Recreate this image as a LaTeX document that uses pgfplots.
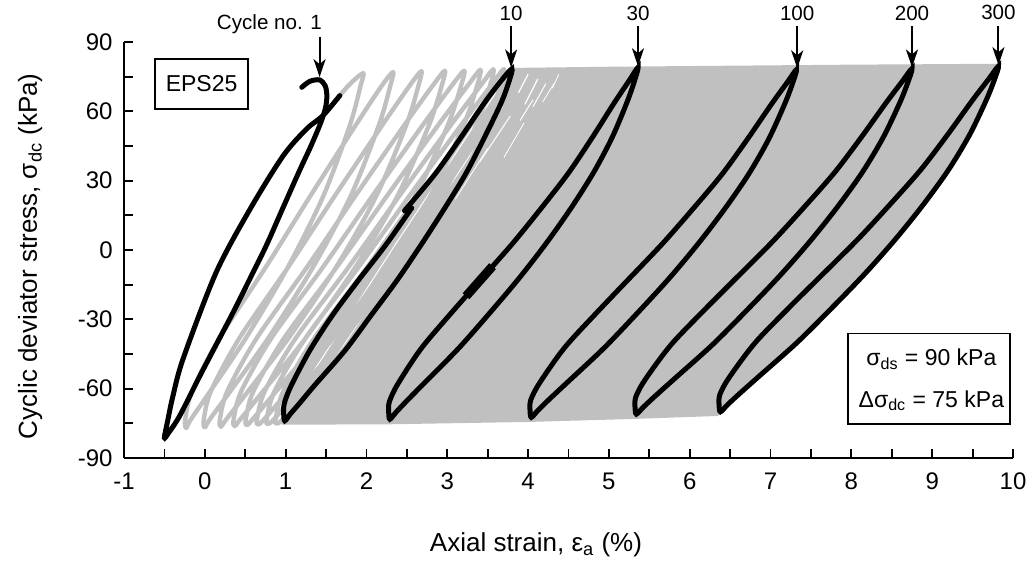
\documentclass[border=0pt]{standalone}
\usepackage{fontspec}
\setmainfont{Liberation Sans}
\usepackage{pgfplots}
\pgfplotsset{compat=1.18}
\usetikzlibrary{arrows.meta}
\definecolor{lg}{RGB}{192,192,192}
\begin{document}
\begin{tikzpicture}
\useasboundingbox (-62pt,-53pt) rectangle (456pt,229pt);
\begin{axis}[
 at={(0pt,0pt)}, anchor=south west,
 scale only axis, width=444.5pt, height=208pt,
 xmin=-1, xmax=10, ymin=-90, ymax=90,
 axis x line*=bottom, axis y line*=left,
 axis line style={-, line width=0.9pt},
 xtick={-1,0,...,10}, xticklabels={-1,0,1,2,3,4,5,6,7,8,9,10},
 ytick={-90,-60,...,90}, yticklabels={-90,-60,-30,0,30,60,90},
 minor x tick num=1, minor y tick num=1,
 tick align=inside, major tick length=4.5pt, minor tick length=4.5pt,
 tick style={line width=0.9pt, black},
 ticklabel style={font=\fontsize{12}{14}\selectfont},
 xticklabel style={anchor=center, inner sep=0pt, yshift=-11.5pt},
 yticklabel style={anchor=east, inner sep=0pt, xshift=-5.5pt},
 xlabel={Axial strain, ε\textsubscript{a} (\%)},
 ylabel={Cyclic deviator stress, σ\textsubscript{dc} (kPa)},
 label style={font=\fontsize{13}{15}\selectfont},
 xlabel style={at={(axis description cs:0.4634,-0.209)}, anchor=center},
 ylabel style={at={(axis description cs:-0.1057,0.485)}, anchor=center},
 clip=false,
]
% dense gray region (cycles 10-300)
\addplot[fill=lg, draw=none] coordinates {
(0.95,-75.6) (2.3,-75.4) (4.0,-74.4) (5.3,-73.1) (6.35,-71.8)
(6.466,-67.01) (6.604,-62.53) (6.844,-55.05) (7.326,-40.1) (7.756,-25.15)
(8.169,-10.2) (8.547,4.75) (8.891,19.7) (9.201,34.65) (9.459,49.6)
(9.665,64.55) (9.768,73.52) (9.82,79.5)
(9.80,80.6) (9.0,80.4) (8.0,80.2) (7.0,79.9) (6.0,79.6) (5.0,79.3) (4.3,79.0) (3.80,78.8)
(3.645,72.31) (3.449,63.17) (3.154,47.94) (2.845,32.71) (2.521,17.48) (2.240,2.25)
(1.903,-12.98) (1.580,-28.21) (1.299,-43.44) (1.069,-58.67) (0.984,-66.29) (0.95,-72)
} -- cycle;
% faint white streaks inside the dense region (cycles 11-30)
\addplot[white, line width=0.5pt] coordinates {(1.30,-55) (2.35,2) (3.60,68)};
\addplot[white, line width=0.4pt] coordinates {(1.55,-50) (2.60,5) (3.68,62)};
\addplot[white, line width=0.4pt] coordinates {(3.10,22) (3.50,44)};
\addplot[white, line width=0.5pt] coordinates {(3.40,38) (3.78,58)};
\addplot[white, line width=0.6pt] coordinates {(3.88,68) (4.00,76)};
\addplot[white, line width=0.6pt] coordinates {(3.96,63) (4.12,74)};
\addplot[white, line width=0.5pt] coordinates {(4.06,62) (4.22,72)};
\addplot[white, line width=0.5pt] coordinates {(3.90,56) (4.06,65)};
\addplot[white, line width=0.4pt] coordinates {(4.18,64) (4.32,72)};
\addplot[white, line width=0.4pt] coordinates {(4.30,70) (4.38,76)};
\addplot[white, line width=0.4pt] coordinates {(3.70,40) (3.95,55)};
% gray loops, cycles 2-9
\addplot[lg, line width=2.2pt, smooth, tension=0.5, line join=round] coordinates {
(1.67,66.8) (1.80,72.0) (1.96,76.5)
(1.927,71.05) (1.796,54.15) (1.467,23.41) (1.029,-7.34) (0.509,-38.08) (0.066,-61.13) (-0.175,-73.43) (-0.23,-77.0)
(-0.243,-73.43) (-0.158,-61.13) (0.180,-38.08) (0.756,-7.34) (1.306,23.41) (1.869,54.15) (2.189,71.05) (2.33,77.0)
(2.295,71.05) (2.155,54.15) (1.806,23.41) (1.340,-7.34) (0.786,-38.08) (0.315,-61.13) (0.058,-73.43) (0.0,-76.8)
(-0.013,-73.43) (0.075,-61.13) (0.429,-38.08) (1.032,-7.34) (1.608,23.41) (2.198,54.15) (2.533,71.05) (2.68,77.4)
(2.643,71.05) (2.494,54.15) (2.122,23.41) (1.626,-7.34) (1.037,-38.08) (0.535,-61.13) (0.262,-73.43) (0.2,-76.5)
(0.186,-73.43) (0.278,-61.13) (0.643,-38.08) (1.266,-7.34) (1.862,23.41) (2.471,54.15) (2.818,71.05) (2.97,77.6)
(2.931,71.05) (2.775,54.15) (2.385,23.41) (1.865,-7.34) (1.248,-38.08) (0.721,-61.13) (0.435,-73.43) (0.37,-76.2)
(0.356,-73.43) (0.450,-61.13) (0.824,-38.08) (1.463,-7.34) (2.074,23.41) (2.699,54.15) (3.054,71.05) (3.21,77.6)
(3.170,71.05) (3.008,54.15) (2.605,23.41) (2.067,-7.34) (1.428,-38.08) (0.883,-61.13) (0.587,-73.43) (0.52,-75.8)
(0.506,-73.43) (0.601,-61.13) (0.982,-38.08) (1.633,-7.34) (2.254,23.41) (2.890,54.15) (3.251,71.05) (3.41,78.0)
(3.369,71.05) (3.204,54.15) (2.791,23.41) (2.241,-7.34) (1.588,-38.08) (1.031,-61.13) (0.729,-73.43) (0.66,-75.5)
(0.645,-73.43) (0.741,-61.13) (1.126,-38.08) (1.780,-7.34) (2.406,23.41) (3.046,54.15) (3.410,71.05) (3.57,78.2)
(3.528,71.05) (3.361,54.15) (2.942,23.41) (2.384,-7.34) (1.722,-38.08) (1.157,-61.13) (0.850,-73.43) (0.78,-75.2)
(0.765,-73.43) (0.862,-61.13) (1.247,-38.08) (1.904,-7.34) (2.532,23.41) (3.174,54.15) (3.539,71.05) (3.70,78.3)
(3.658,71.05) (3.489,54.15) (3.068,23.41) (2.506,-7.34) (1.838,-38.08) (1.269,-61.13) (0.960,-73.43) (0.89,-75.0)
(0.875,-73.43) (0.971,-61.13) (1.356,-38.08) (2.010,-7.34) (2.476,15.7)
};
% cycle 1
\addplot[black, line width=2.5pt, smooth, tension=0.5, line cap=round] coordinates {
(1.20,70.4) (1.30,73.0) (1.42,73.6) (1.49,71.0) (1.51,66.5) (1.49,61) (1.42,53.8) (1.30,44) (1.18,35)
(0.97,18.5) (0.76,1.9) (0.55,-13) (0.35,-27) (0.14,-41) (-0.06,-54.4) (-0.31,-71.7) (-0.45,-79.2) (-0.50,-81.2)
(-0.46,-74) (-0.40,-64) (-0.27,-47.2) (0.14,-9.7) (0.56,17.7) (0.97,40.8) (1.26,52.4) (1.46,58.1) (1.67,66.8)
};
% cycle 10
\addplot[black, line width=2.5pt, smooth, tension=0.5, line cap=round] coordinates {
(2.47,17.0) (2.845,32.71) (3.154,47.94) (3.449,63.17) (3.645,72.31) (3.80,78.4)
(3.758,72.31) (3.660,63.17) (3.449,47.94) (3.224,32.71) (2.957,17.48) (2.676,2.25) (2.381,-12.98)
(2.058,-28.21) (1.735,-43.44) (1.355,-58.67) (1.173,-66.29) (1.060,-70.85) (0.99,-73.9)
(0.976,-70.85) (0.984,-66.29) (1.069,-58.67) (1.299,-43.44) (1.580,-28.21) (1.903,-12.98) (2.240,2.25) (2.56,18.2)
};
% cycle 30
\addplot[black, line width=2.5pt, smooth, tension=0.5, line cap=round] coordinates {
(3.426,-12.32) (3.810,2.9) (4.163,18.12) (4.500,33.34) (4.792,48.56) (5.068,63.78) (5.243,72.91) (5.36,79.0)
(5.314,72.91) (5.222,63.78) (5.038,48.56) (4.807,33.34) (4.531,18.12) (4.224,2.9) (3.886,-12.32) (3.518,-27.54)
(3.134,-42.76) (2.704,-57.98) (2.490,-65.59) (2.367,-70.16) (2.29,-73.2)
(2.275,-70.16) (2.284,-65.59) (2.388,-57.98) (2.674,-42.76) (3.042,-27.54) (3.426,-12.32)
};
\addplot[black, line width=4.5pt] coordinates {(3.232,-20) (3.426,-12.32) (3.56,-7)};
% cycle 100
\addplot[black, line width=2.5pt, smooth, tension=0.5, line cap=round] coordinates {
(5.254,-12.24) (5.664,2.8) (6.041,17.84) (6.402,32.88) (6.713,47.92) (7.008,62.96) (7.195,71.98) (7.32,78.0)
(7.271,71.98) (7.172,62.96) (6.976,47.92) (6.730,32.88) (6.434,17.84) (6.106,2.8) (5.746,-12.24) (5.352,-27.28)
(4.942,-42.32) (4.483,-57.36) (4.253,-64.88) (4.122,-69.39) (4.04,-72.4)
(4.024,-69.39) (4.033,-64.88) (4.145,-57.36) (4.45,-42.32) (4.844,-27.28) (5.254,-12.24)
};
% cycle 200
\addplot[black, line width=2.5pt, smooth, tension=0.5, line cap=round] coordinates {
(6.602,-11.2) (7.028,3.75) (7.420,18.7) (7.795,33.65) (8.119,48.6) (8.426,63.55) (8.620,72.52) (8.75,78.5)
(8.699,72.52) (8.597,63.55) (8.392,48.6) (8.136,33.65) (7.829,18.7) (7.488,3.75) (7.113,-11.2) (6.704,-26.15)
(6.278,-41.1) (5.800,-56.05) (5.562,-63.53) (5.425,-68.01) (5.34,-71.0)
(5.323,-68.01) (5.333,-63.53) (5.449,-56.05) (5.766,-41.1) (6.175,-26.15) (6.602,-11.2)
};
% cycle 300
\addplot[black, line width=2.5pt, smooth, tension=0.5, line cap=round] coordinates {
(7.653,-10.2) (8.083,4.75) (8.478,19.7) (8.857,34.65) (9.184,49.6) (9.493,64.55) (9.689,73.52) (9.82,79.5)
(9.768,73.52) (9.665,64.55) (9.459,49.6) (9.201,34.65) (8.891,19.7) (8.547,4.75) (8.169,-10.2) (7.756,-25.15)
(7.326,-40.1) (6.844,-55.05) (6.604,-62.53) (6.466,-67.01) (6.38,-70.0)
(6.363,-67.01) (6.373,-62.53) (6.490,-55.05) (6.81,-40.1) (7.223,-25.15) (7.653,-10.2)
};
% annotations
\tikzset{cyc/.style={line width=1pt, -{Stealth[length=9pt,width=6pt,inset=2.5pt]}},
         cyl/.style={font=\fontsize{10.3}{12}\selectfont}}
\draw[cyc] (axis cs:1.42,92.2) -- (axis cs:1.42,74.8);
\node[cyl] at (axis cs:0.80,97.8) {Cycle no. 1};
\draw[cyc] (axis cs:3.79,96.8) -- (axis cs:3.79,79.0);
\node[cyl] at (axis cs:3.79,102.2) {10};
\draw[cyc] (axis cs:5.36,96.8) -- (axis cs:5.36,79.5);
\node[cyl] at (axis cs:5.36,102.2) {30};
\draw[cyc] (axis cs:7.33,96.8) -- (axis cs:7.33,78.6);
\node[cyl] at (axis cs:7.33,102.2) {100};
\draw[cyc] (axis cs:8.75,96.8) -- (axis cs:8.75,79.0);
\node[cyl] at (axis cs:8.75,102.2) {200};
\draw[cyc] (axis cs:9.82,96.8) -- (axis cs:9.82,80.0);
\node[cyl] at (axis cs:9.82,102.6) {300};
\node[draw, line width=0.75pt, minimum width=46.5pt, minimum height=25pt, fill=white,
      font=\fontsize{11.5}{13}\selectfont] at (axis cs:-0.04,71.9) {EPS25};
\draw[line width=0.75pt, fill=white] (axis cs:7.96,-36.1) rectangle (axis cs:9.96,-75.3);
\node[font=\fontsize{11.5}{13}\selectfont] at (axis cs:8.99,-47.2) {σ\textsubscript{ds} = 90 kPa};
\node[font=\fontsize{11.5}{13}\selectfont] at (axis cs:8.99,-65.2) {Δσ\textsubscript{dc} = 75 kPa};
\end{axis}
\end{tikzpicture}
\end{document}
